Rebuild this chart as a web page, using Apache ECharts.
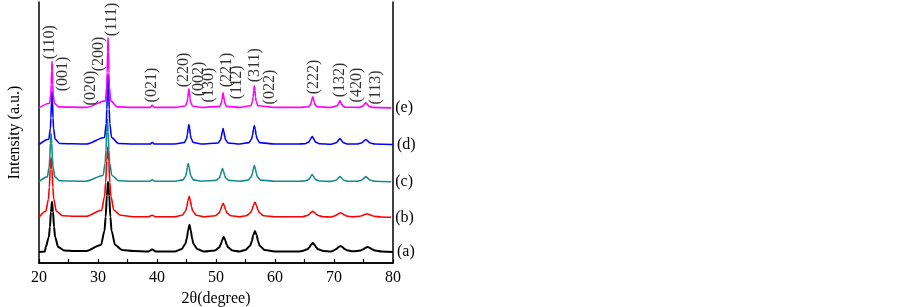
<!DOCTYPE html>
<html>
<head>
<meta charset="utf-8">
<script src="https://cdn.jsdelivr.net/npm/echarts@6/dist/echarts.min.js"></script>
<style>
  html, body { margin: 0; padding: 0; background: #fff; }
  #xrd { width: 903px; height: 307px; }
</style>
</head>
<body>
<div id="xrd"></div>
<script>
// ---- data: [2theta, intensity(a.u., offset stacked)] ----
var traceA = [
    [20, 11], [21, 11.5], [21.15, 16], [21.675, 26], [21.85, 36], [22.025, 51], [22.2, 61], [22.375, 51], [22.55, 36], [22.725, 26], [23.25, 16], [24.3, 12.5], [26, 12], [28, 12],
    [30.5, 18], [31.1, 32], [31.3, 46], [31.5, 67], [31.7, 81], [31.9, 67], [32.1, 46], [32.3, 32], [32.9, 18], [34.1, 13], [36, 12], [38.5, 11.5], [39.2, 13.5], [39.8, 11.5], [43, 11.5],
    [44.15, 13.7], [44.8, 19], [45.05, 24.5], [45.28, 32.6], [45.5, 38], [45.72, 32.6], [45.95, 24.5], [46.18, 19], [46.85, 13.7], [48, 11.5],
    [49.8, 12.5], [50.55, 15.5], [50.8, 18.5], [51.05, 23], [51.3, 26], [51.55, 23], [51.8, 18.5], [52.05, 15.5], [52.8, 12.5], [54, 11.5],
    [54.95, 13], [55.8, 17.3], [56.05, 21.5], [56.33, 27.8], [56.6, 32], [56.88, 27.8], [57.15, 21.5], [57.4, 17.3], [58.25, 13], [60, 11.5], [64, 11.5],
    [64.6, 12], [65.5, 13.7], [65.8, 15.5], [66.1, 18.2], [66.4, 20], [66.7, 18.2], [67, 15.5], [67.3, 13.7], [68.2, 12], [69.5, 11.5],
    [70.05, 12.8], [70.4, 14], [70.75, 15.8], [71.1, 17], [71.45, 15.8], [71.8, 14], [72.15, 12.8], [73.2, 11.6],
    [74.5, 12.5], [74.9, 13.5], [75.3, 15], [75.7, 16], [76.1, 15], [76.5, 13.5], [76.9, 12.5], [78.1, 11.5], [80, 11]
];
var traceB = [
    [20, 45.5], [21.15, 51.5], [21.6, 63.5], [21.75, 75.5], [21.9, 93.5], [22.05, 105.5], [22.2, 93.5], [22.35, 75.5], [22.5, 63.5], [22.95, 51.5], [24, 47], [26, 46.5], [28, 46.5],
    [30.6, 52.5], [31.12, 66.5], [31.3, 80.5], [31.48, 101.5], [31.65, 115.5], [31.83, 101.5], [32, 80.5], [32.18, 66.5], [32.7, 52.5], [33.8, 47.5], [36, 46], [38.5, 46], [39.2, 47.5], [39.8, 46], [43, 46],
    [44.25, 47.6], [44.85, 51.8], [45.05, 56], [45.25, 62.3], [45.45, 66.5], [45.65, 62.3], [45.85, 56], [46.05, 51.8], [46.65, 47.6], [48, 46],
    [49.85, 47], [50.5, 49.7], [50.75, 52.5], [50.98, 56.7], [51.2, 59.5], [51.43, 57], [51.65, 52.5], [51.88, 49.7], [52.55, 47], [54, 46],
    [55.1, 47], [55.85, 50], [56.1, 53], [56.35, 57.5], [56.6, 60.5], [56.85, 57.5], [57.1, 53], [57.35, 50], [58.1, 47], [60, 46], [64, 46],
    [64.6, 46.1], [65.5, 47.3], [65.8, 48.5], [66.1, 50.3], [66.4, 51.5], [66.7, 50.3], [67, 48.5], [67.3, 47.3], [68.2, 46.1], [69.5, 45.8],
    [70.05, 46.8], [70.4, 47.8], [70.75, 49.1], [71.1, 50], [71.45, 49.1], [71.8, 47.8], [72.15, 46.8], [73.2, 45.9],
    [74.4, 46.6], [74.8, 47.3], [75.2, 48.3], [75.6, 49], [76, 48.3], [76.4, 47.3], [76.8, 46.6], [78, 45.8], [79.7, 45.5]
];
var traceC = [
    [20, 81], [21.4, 85.8], [21.72, 95.4], [21.83, 105], [21.94, 119.4], [22.05, 129], [22.16, 119.4], [22.27, 105], [22.38, 95.4], [22.7, 85.8], [23.5, 82], [28, 81.5],
    [30.85, 87.2], [31.22, 99.6], [31.35, 112], [31.48, 130.6], [31.6, 143], [31.72, 130.6], [31.85, 112], [31.98, 99.6], [32.35, 87.2], [33.5, 82], [36, 81.5], [38.8, 81.5], [39.2, 83], [39.6, 81.5], [43, 81.5],
    [44.4, 82.8], [44.85, 86.4], [45, 90], [45.15, 95.4], [45.3, 99], [45.45, 95.4], [45.6, 90], [45.75, 86.4], [46.2, 82.8], [47.5, 81.5],
    [50.05, 82.3], [50.58, 84.9], [50.75, 87.5], [50.93, 91.4], [51.1, 94], [51.28, 91.4], [51.45, 87.5], [51.63, 84.9], [52.15, 82.3], [54, 81.5],
    [55.45, 82.6], [55.98, 85.8], [56.15, 89], [56.33, 93.8], [56.5, 97], [56.68, 93.8], [56.85, 89], [57.03, 85.8], [57.55, 82.6], [60, 81.5], [64, 81.5],
    [65.1, 81.7], [65.7, 83.1], [65.9, 84.5], [66.1, 86.6], [66.3, 88], [66.5, 86.6], [66.7, 84.5], [66.9, 83.1], [67.5, 81.7], [69.5, 81.3],
    [70.33, 82.5], [70.55, 83.5], [70.78, 85], [71, 86], [71.23, 85], [71.45, 83.5], [71.68, 82.5], [72.35, 81.5],
    [73.9, 81.5], [74.65, 82.5], [74.9, 83.5], [75.15, 85], [75.4, 86], [75.65, 85], [75.9, 83.5], [76.15, 82.5], [76.9, 81.5], [79.7, 81]
];
var traceD = [
    [20, 118], [21.66, 123.3], [21.93, 133.9], [22.02, 144.5], [22.11, 160.4], [22.2, 171], [22.29, 160.4], [22.38, 144.5], [22.47, 133.9], [22.74, 123.3], [23.5, 119], [28, 118.5],
    [31.1, 125], [31.4, 139], [31.5, 153], [31.6, 174], [31.7, 188], [31.8, 174], [31.9, 153], [32, 139], [32.3, 125], [33.5, 119], [36, 118.5], [38.8, 118.5], [39.2, 120], [39.6, 118.5], [43, 118.5],
    [44.65, 120], [45.03, 124], [45.15, 128], [45.28, 134], [45.4, 138], [45.53, 134], [45.65, 128], [45.78, 124], [46.15, 120], [47.5, 118.5],
    [50.36, 119.6], [50.78, 122.8], [50.92, 126], [51.06, 130.8], [51.2, 134], [51.34, 130.8], [51.48, 126], [51.62, 122.8], [52.04, 119.6], [54, 118.5],
    [55.6, 119.9], [56.05, 123.7], [56.2, 127.5], [56.35, 133.2], [56.5, 137], [56.65, 133.2], [56.8, 127.5], [56.95, 123.7], [57.4, 119.9], [60, 118.5], [64, 118.5],
    [65.1, 118.8], [65.7, 120.4], [65.9, 122], [66.1, 124.4], [66.3, 126], [66.5, 124.4], [66.7, 122], [66.9, 120.4], [67.5, 118.8], [69.5, 118.3],
    [70.4, 119.8], [70.6, 121], [70.8, 122.8], [71, 124], [71.2, 122.8], [71.4, 121], [71.6, 119.8], [72.2, 118.6],
    [73.9, 118.5], [74.65, 119.5], [74.9, 120.5], [75.15, 122], [75.4, 123], [75.65, 122], [75.9, 120.5], [76.15, 119.5], [76.9, 118.5], [80, 118]
];
var traceE = [
    [20, 154.5], [21.8, 159.1], [22, 168.3], [22.07, 177.5], [22.14, 191.3], [22.2, 201], [22.27, 191.3], [22.33, 177.5], [22.4, 168.3], [22.6, 159.1], [23.3, 155.5], [28, 155],
    [31.25, 161.5], [31.48, 175.5], [31.55, 189.5], [31.63, 210.5], [31.7, 224.5], [31.78, 210.5], [31.85, 189.5], [31.93, 175.5], [32.15, 161.5], [33.3, 155.5], [36, 155], [38.8, 155], [39.2, 157], [39.6, 155], [43, 155],
    [44.8, 156.4], [45.1, 160.2], [45.2, 164], [45.3, 169.7], [45.4, 173.5], [45.5, 169.7], [45.6, 164], [45.7, 160.2], [46, 156.4], [47.5, 155],
    [50.6, 156], [50.9, 159], [51, 162], [51.1, 166.5], [51.2, 169.5], [51.3, 166.5], [51.4, 162], [51.5, 159], [51.8, 156], [54, 155],
    [55.9, 156.7], [56.2, 161.1], [56.3, 165.5], [56.4, 172.1], [56.5, 176.5], [56.6, 172.1], [56.7, 165.5], [56.8, 161.1], [57.1, 156.7], [60, 155], [64, 155],
    [65.65, 155.6], [66.03, 157.8], [66.15, 160], [66.28, 163.3], [66.4, 165.5], [66.53, 163.3], [66.65, 160], [66.78, 157.8], [67.15, 155.6], [69.5, 155],
    [70.55, 156.6], [70.7, 158], [70.85, 160.1], [71, 161.5], [71.15, 160.1], [71.3, 158], [71.45, 156.6], [71.9, 155.2],
    [74.2, 155], [74.8, 156], [75, 157], [75.2, 158.5], [75.4, 159.5], [75.6, 158.5], [75.8, 157], [76, 156], [76.6, 155], [79.7, 154.5]
];
var sampleNames = ['(a)', '(b)', '(c)', '(d)', '(e)'];
var sampleColors = ['#000000', '#ff0000', '#168c8c', '#0000ff', '#ff00ff'];

// miller indices: [label, 2theta, height where the text starts]
var millerLabels = [
    ['(110)', 21.9, 203], ['(001)', 24.1, 171], ['(020)', 28.7, 157], ['(200)', 30.2, 191],
    ['(111)', 32.3, 226], ['(021)', 39.2, 160], ['(220)', 44.5, 175], ['(002)', 47.0, 166],
    ['(130)', 48.7, 160], ['(221)', 51.9, 175], ['(112)', 53.6, 163], ['(311)', 56.6, 180],
    ['(022)', 59.1, 158], ['(222)', 66.5, 168], ['(132)', 70.9, 165], ['(420)', 73.9, 160],
    ['(113)', 77.0, 158]
];
var xTicks = [20, 30, 40, 50, 60, 70, 80];

var font = "'Liberation Serif', 'Times New Roman', serif";
var chart = echarts.init(document.getElementById('xrd'));

var series = [traceA, traceB, traceC, traceD, traceE].map(function (d, i) {
    return {
        name: sampleNames[i],
        type: 'line',
        data: d,
        symbol: 'none',
        smooth: 0.3,
        smoothMonotone: 'x',
        lineStyle: { color: sampleColors[i], width: i === 0 ? 2 : 1.6 },
        endLabel: {
            show: true,
            formatter: sampleNames[i],
            distance: 4,
            color: '#000',
            fontFamily: font,
            fontSize: 16
        },
        z: 2 + i
    };
});

// rotated hkl labels
series.push({
    type: 'scatter',
    data: millerLabels.map(function (m) { return [m[1], m[2], m[0]]; }),
    symbolSize: 0,
    silent: true,
    z: 10,
    label: {
        show: true,
        position: [0, 0],
        rotate: 90,
        align: 'left',
        verticalAlign: 'middle',
        formatter: function (p) { return p.value[2]; },
        color: '#000',
        fontFamily: font,
        fontSize: 16
    }
});

var option = {
    animation: false,
    backgroundColor: '#fff',
    grid: { left: 39, right: 510, top: 2, bottom: 44, outerBoundsMode: 'none' },
    xAxis: [{
        type: 'value',
        min: 20,
        max: 80,
        interval: 5,
        name: '2θ(degree)',
        nameLocation: 'middle',
        nameGap: 25,
        nameTextStyle: { color: '#000', fontFamily: font, fontSize: 16 },
        axisLine: { lineStyle: { color: '#000', width: 1.5 } },
        axisTick: { inside: true, length: 4, lineStyle: { color: '#000', width: 1.2 } },
        axisLabel: {
            color: '#000', fontFamily: font, fontSize: 16, margin: 7,
            formatter: function (v) { return xTicks.indexOf(v) >= 0 ? v : ''; }
        },
        splitLine: { show: false }
    }, {
        type: 'value',
        position: 'top',
        min: 20,
        max: 80,
        axisLine: { lineStyle: { color: '#000', width: 1.5 } },
        axisTick: { show: false },
        axisLabel: { show: false },
        splitLine: { show: false }
    }],
    yAxis: [{
        type: 'value',
        min: 0,
        max: 260,
        name: 'Intensity (a.u.)',
        nameLocation: 'middle',
        nameGap: 16,
        nameTextStyle: { color: '#000', fontFamily: font, fontSize: 16 },
        axisLine: { show: true, lineStyle: { color: '#000', width: 1.5 } },
        axisTick: { show: false },
        axisLabel: { show: false },
        splitLine: { show: false }
    }, {
        type: 'value',
        position: 'right',
        min: 0,
        max: 260,
        axisLine: { show: true, lineStyle: { color: '#000', width: 1.5 } },
        axisTick: { show: false },
        axisLabel: { show: false },
        splitLine: { show: false }
    }],
    series: series
};

chart.setOption(option);
</script>
</body>
</html>
